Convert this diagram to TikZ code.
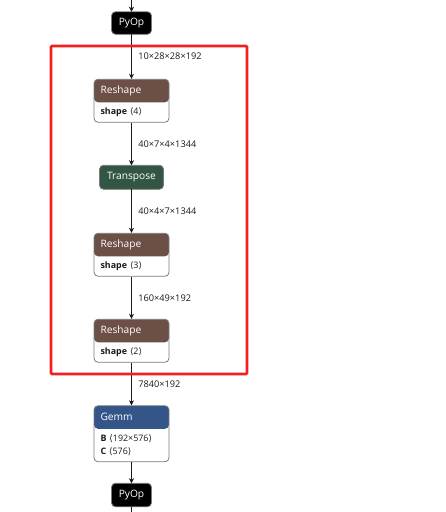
\documentclass[tikz,border=0pt]{standalone}
\usepackage{fontspec}
\setmainfont{Open Sans}
\newfontfamily\symf{DejaVu Sans}
\usepackage{tikz}
\usetikzlibrary{arrows.meta,positioning,backgrounds,fit}
\definecolor{shapecol}{HTML}{6C4F47}
\definecolor{transcol}{HTML}{335544}
\definecolor{layercol}{HTML}{335588}
\definecolor{rim}{HTML}{7A7A7A}
\definecolor{hilite}{HTML}{F0201E}
\definecolor{ink}{HTML}{1A1A1A}
\tikzset{
  edge/.style  = {-{Stealth[length=5pt,width=5pt,inset=1.5pt]}, line width=0.8pt, draw=ink},
  lbl/.style   = {font=\fontsize{9.2}{11}\selectfont, text=ink, inner sep=0pt},
  hdr/.style   = {minimum width=75pt, minimum height=23pt, text width=62pt, inner xsep=6.5pt,
                  inner ysep=0pt, outer sep=0pt, align=left, text=white, font=\fontsize{10.2}{12}\selectfont},
  bdy/.style   = {minimum width=75pt, minimum height=20pt, text width=62pt, inner xsep=6.5pt,
                  inner ysep=0pt, outer sep=0pt, align=left, text=ink, font=\fontsize{8.9}{13.6}\selectfont},
  frame/.style = {draw=rim, line width=0.8pt, rounded corners=4pt, fill=white, inner sep=0pt},
  blk/.style   = {draw=rim, line width=0.8pt, rounded corners=4pt, text=white, inner sep=0pt,
                  outer sep=0pt, font=\fontsize{10.2}{12}\selectfont},
  hl/.style    = {draw=hilite, line width=2.6pt, rounded corners=1pt},
}
\begin{document}
\begin{tikzpicture}[x=1pt,y=-1pt]
\useasboundingbox (0,0) rectangle (446,512);
\coordinate (in) at (131.5,0);
\coordinate (out) at (131.5,512);
\node[blk, fill=black, minimum width=40pt, minimum height=22.5pt] (py1) at (131.5,23) {PyOp};
\node[hdr, below=45pt of py1] (r1h) {Reshape};
\node[bdy, below=0pt of r1h] (r1b) {\textbf{shape}~{\symf⟨}4{\symf⟩}};
\node[blk, fill=transcol, minimum width=64pt, minimum height=24pt, below=43pt of r1b] (tr) {Transpose};
\node[hdr, below=44pt of tr] (r2h) {Reshape};
\node[bdy, below=0pt of r2h] (r2b) {\textbf{shape}~{\symf⟨}3{\symf⟩}};
\node[hdr, below=43pt of r2b] (r3h) {Reshape};
\node[bdy, below=0pt of r3h] (r3b) {\textbf{shape}~{\symf⟨}2{\symf⟩}};
\node[hdr, below=43.5pt of r3b] (gh) {Gemm};
\node[bdy, below=0pt of gh, minimum height=33pt] (gb) {\textbf{B}~{\symf⟨}192×576{\symf⟩}\\\textbf{C}~{\symf⟨}576{\symf⟩}};
\node[blk, fill=black, minimum width=40pt, minimum height=23.5pt, below=21.5pt of gb] (py2) {PyOp};
% boxes behind the texts
\begin{scope}[on background layer]
\node[frame, fit=(r1h)(r1b), path picture={\fill[shapecol] (path picture bounding box.north west) rectangle (path picture bounding box.east |- r1h.south);}] (r1) {};
\node[frame, fit=(r2h)(r2b), path picture={\fill[shapecol] (path picture bounding box.north west) rectangle (path picture bounding box.east |- r2h.south);}] (r2) {};
\node[frame, fit=(r3h)(r3b), path picture={\fill[shapecol] (path picture bounding box.north west) rectangle (path picture bounding box.east |- r3h.south);}] (r3) {};
\node[frame, fit=(gh)(gb), path picture={\fill[layercol] (path picture bounding box.north west) rectangle (path picture bounding box.east |- gh.south);}] (gm) {};
\end{scope}
% edges
\draw[edge] (in) -- (py1);
\draw[edge] (py1) -- node[lbl, right=6.5pt] {10×28×28×192} (r1);
\draw[edge] (r1) -- node[lbl, right=6.5pt] {40×7×4×1344} (tr);
\draw[edge] (tr) -- node[lbl, right=6.5pt] {40×4×7×1344} (r2);
\draw[edge] (r2) -- node[lbl, right=6.5pt] {160×49×192} (r3);
\draw[edge] (r3) -- node[lbl, right=6.5pt] {7840×192} (gm);
\draw[edge] (gm) -- (py2);
\draw[line width=0.8pt, draw=ink] (py2) -- (out);
% highlight
\coordinate (hl1) at (51,46);
\coordinate (hl2) at (247,374);
\draw[hl] (hl1) rectangle (hl2);
\end{tikzpicture}
\end{document}
